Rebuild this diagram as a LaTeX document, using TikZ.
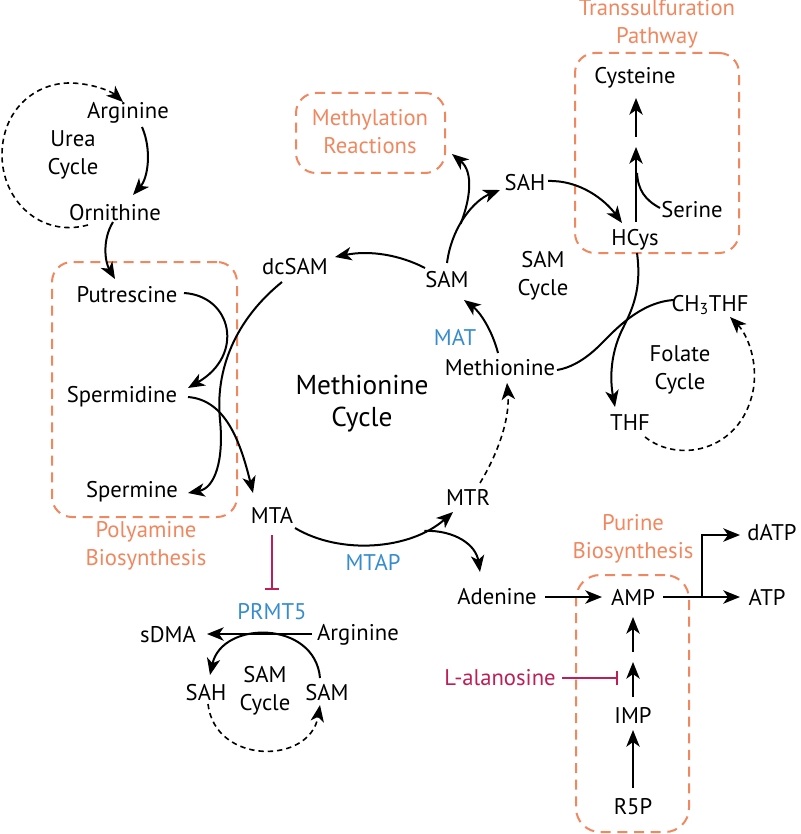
\documentclass[tikz,border=0pt]{standalone}
\usepackage{fontspec}
\setmainfont{PT Sans}
\usetikzlibrary{arrows.meta,calc}
\definecolor{orng}{RGB}{240,135,95}
\definecolor{blu}{RGB}{55,140,205}
\definecolor{crim}{RGB}{190,30,85}
\begin{document}
\begin{tikzpicture}[x=0.75pt,y=-0.75pt,
  txt/.style={inner sep=1.5pt, font=\fontsize{17}{21}\selectfont, align=center},
  big/.style={inner sep=1.5pt, font=\fontsize{20.5}{24}\selectfont, align=center},
  olbl/.style={txt, text=orng},
  blbl/.style={txt, text=blu},
  arr/.style={line width=1.5pt, -{Stealth[length=12.5pt,width=10pt,inset=3.5pt]}},
  ln/.style={line width=1.5pt},
  darr/.style={line width=1.2pt, dash pattern=on 4pt off 3pt, -{Stealth[length=12.5pt,width=10pt,inset=3.5pt]}},
  obox/.style={draw=orng, line width=1.5pt, dash pattern=on 7.5pt off 5pt, rounded corners=15pt, inner sep=0pt},
  inh/.style={draw=crim, line width=1.4pt, -{Bar[width=10pt,line width=1.4pt]}}
]
\useasboundingbox (0,0) rectangle (800,834);

% boxes
\node[obox, minimum width=138.75pt, minimum height=191.25pt] (polybox) at (144.5,389.5) {};
\node[obox, minimum width=111.75pt, minimum height=60pt] (methbox) at (370.5,133) {};
\node[obox, minimum width=123pt, minimum height=150pt] (transbox) at (657,153) {};
\node[obox, minimum width=84.75pt, minimum height=192.75pt, rounded corners=18pt] (purbox) at (632.5,703.5) {};

% box labels
\node[olbl] (polylbl) at (146,546) {Polyamine\\Biosynthesis};
\node[olbl] (methlbl) at (370,132) {Methylation\\Reactions};
\node[olbl] (translbl) at (657,24) {Transsulfuration\\Pathway};
\node[olbl] (purlbl) at (633,539) {Purine\\Biosynthesis};

% text nodes
\node[txt] (argU) at (128,113) {Arginine};
\node[txt] (urea) at (73,155) {Urea\\Cycle};
\node[txt] (orn) at (115,213) {Ornithine};
\node[txt] (putr) at (127,295) {Putrescine};
\node[txt] (spd) at (122,397) {Spermidine};
\node[txt] (spm) at (132,492) {Spermine};
\node[txt] (dcsam) at (295,267) {dcSAM};
\node[txt] (sam) at (447,280) {SAM};
\node[txt] (sah) at (525,183) {SAH};
\node[txt] (hcys) at (635,240) {HCys};
\node[txt] (cys) at (635,78) {Cysteine};
\node[txt] (ser) at (692,210) {Serine};
\node[txt] (samcyc) at (543,276) {SAM\\Cycle};
\node[txt] (met) at (500,368) {Methionine};
\node[blbl] (mat) at (455,337) {MAT};
\node[big] (methcyc) at (362,404) {Methionine\\Cycle};
\node[txt] (ch3) at (710,305) {CH\textsubscript{3}THF};
\node[txt] (folate) at (680,370) {Folate\\Cycle};
\node[txt] (thf) at (630,423) {THF};
\node[txt] (mtr) at (468,497) {MTR};
\node[txt] (mta) at (272,515) {MTA};
\node[blbl] (mtap) at (373,562) {MTAP};
\node[blbl] (prmt5) at (272,612) {PRMT5};
\node[txt] (sdma) at (168,635) {sDMA};
\node[txt] (arg2) at (358,635) {Arginine};
\node[txt] (samc2) at (265,691) {SAM\\Cycle};
\node[txt] (sah2) at (206,693) {SAH};
\node[txt] (sam2) at (327,693) {SAM};
\node[txt] (aden) at (497,597) {Adenine};
\node[txt] (amp) at (633,597) {AMP};
\node[txt] (atp) at (767,597) {ATP};
\node[txt] (datp) at (772,533) {dATP};
\node[txt, text=crim] (lala) at (500,678) {L-alanosine};
\node[txt] (imp) at (633,715) {IMP};
\node[txt] (r5p) at (633,807) {R5P};

% urea cycle
\draw[darr] ($(orn)+(-27,12)$) .. controls (40,238) and (2,200) .. (2,155)
  .. controls (2,110) and (35,82) .. (72,83)
  .. controls (95,84) and (112,92) .. ($(argU)+(-5,-11)$);
\draw[arr] ($(argU)+(14,14)$) .. controls (152,150) and (148,178) .. ($(orn)+(18,-18)$);
\draw[arr] ($(orn)+(-2,9)$) .. controls (102,240) and (105,262) .. ($(putr)+(-12,-16)$);

% polyamines
\draw[arr] ($(putr)+(57,-2)$) .. controls (232,296) and (245,355) .. ($(spd)+(66,-9)$);
\draw[arr] ($(dcsam)+(-13,15)$) .. controls (235,320) and (215,370) .. (220,420)
  .. controls (224,460) and (215,488) .. ($(spm)+(56,1)$);
\draw[arr] ($(spd)+(66,0)$) .. controls (225,400) and (240,440) .. ($(mta)+(-19,-22)$);

% methionine cycle
\draw[arr] ($(sam)+(-22,-12)$) .. controls (400,255) and (370,250) .. ($(dcsam)+(40,-10)$);
\draw[arr] ($(sam)+(0,-17)$) .. controls (452,225) and (475,200) .. ($(sah)+(-25,7)$) coordinate[pos=0.4] (br1);
\draw[arr] (br1) .. controls (470,200) and (474,172) .. ($(methbox.east)+(6,21)$);
\draw[arr] ($(sah)+(23,-2)$) .. controls (580,180) and (605,200) .. ($(hcys)+(-13,-17)$);
\draw[arr] ($(hcys)+(1,-18)$) -- ($(hcys)+(1,-93)$);
\draw[arr] ($(cys)+(1,59)$) -- ($(cys)+(1,20)$);
\draw[ln] ($(ser)+(-32,-2)$) .. controls (645,200) and (638,190) .. ($(hcys)+(2,-67)$);
\draw[arr] ($(hcys)+(2,13)$) .. controls (642,290) and (632,310) .. (622,330)
  .. controls (610,355) and (610,380) .. ($(thf)+(-15,-16)$);
\draw[ln] ($(ch3)+(-36,-5)$) .. controls (640,302) and (615,330) .. (600,345)
  .. controls (585,360) and (570,368) .. ($(met)+(57,2)$);
\draw[darr] ($(thf)+(15,14)$) .. controls (680,465) and (745,450) .. (754,385)
  .. controls (757,355) and (745,332) .. ($(ch3)+(20,12)$);
\draw[arr] ($(met)+(-2,-15)$) .. controls (492,330) and (480,312) .. ($(sam)+(17,20)$);
\draw[darr] ($(mtr)+(12,-14)$) .. controls (497,455) and (510,420) .. ($(met)+(7,15)$);
\draw[arr] ($(mta)+(23,13)$) .. controls (340,555) and (410,550) .. ($(mtr)+(-15,15)$) coordinate[pos=0.8] (br2);
\draw[arr] (br2) .. controls (455,530) and (476,545) .. ($(aden)+(-17,-25)$);

% PRMT5
\draw[inh] ($(mta)+(0,20)$) -- ($(prmt5)+(0,-22)$);
\draw[arr] ($(arg2)+(-46,-1)$) -- ($(sdma)+(39,-1)$);
\draw[arr] ($(sam2)+(-7,-15)$) .. controls (315,620) and (222,620) .. ($(sah2)+(4,-18)$);
\draw[darr] ($(sah2)+(2,11)$) .. controls (215,765) and (310,765) .. ($(sam2)+(-7,12)$);

% purine
\draw[arr] ($(aden)+(48,0)$) -- ($(amp)+(-31,0)$);
\draw[arr] ($(amp)+(30,0)$) -- ($(atp)+(-27,0)$) coordinate[pos=0.5] (br3);
\draw[arr] (br3) |- ($(datp)+(-32,2)$);
\draw[arr] ($(imp)+(0,-18)$) -- ($(imp)+(0,-53)$);
\draw[arr] ($(amp)+(0,55)$) -- ($(amp)+(0,20)$);
\draw[arr] ($(r5p)+(0,-19)$) -- ($(imp)+(0,15)$);
\draw[inh] ($(lala)+(62,0)$) -- ($(lala)+(118,0)$);
\end{tikzpicture}
\end{document}
